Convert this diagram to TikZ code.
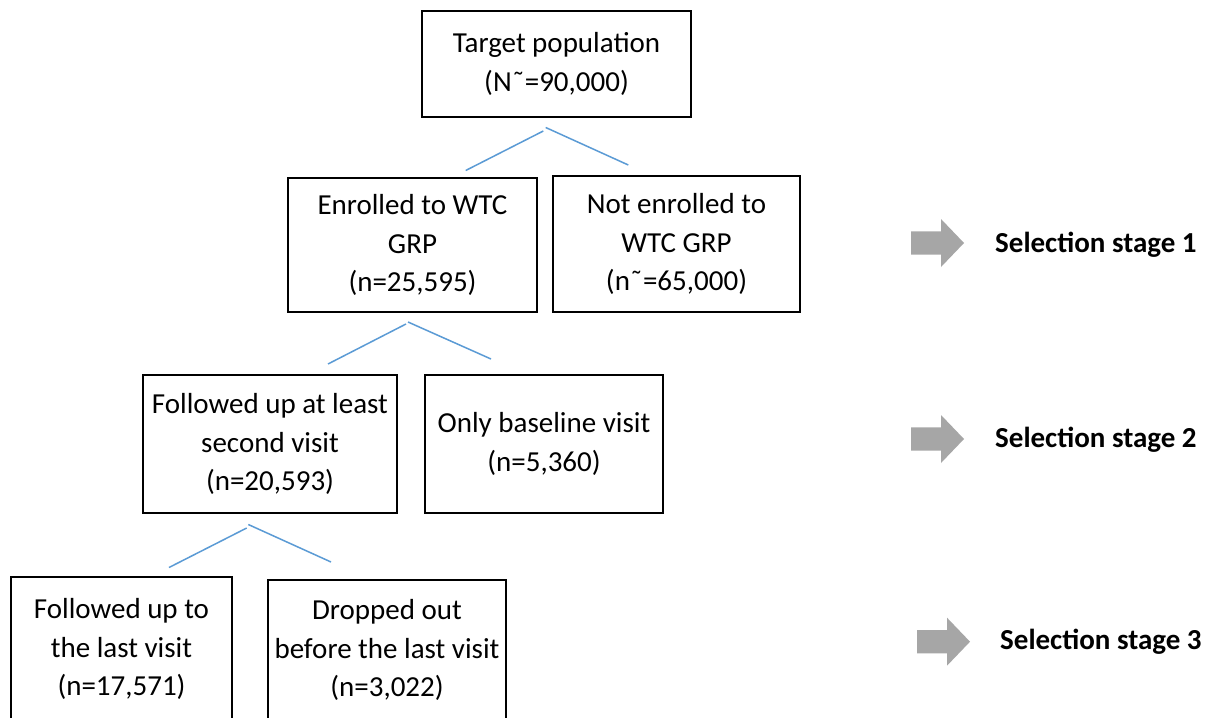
\documentclass[tikz,border=0pt]{standalone}
\usepackage{fontspec}
\setmainfont{Carlito}
\definecolor{linkblue}{RGB}{91,155,213}
\definecolor{arrowgray}{RGB}{166,166,166}
\tikzset{
  box/.style={draw=black, line width=2.6pt, align=center, inner sep=0pt,
    font=\fontsize{29}{38.5}\selectfont},
  link/.style={draw=linkblue, line width=1.5pt},
  stagelabel/.style={anchor=west, inner sep=0pt, font=\fontsize{29}{35}\selectfont\bfseries},
  stagearrow/.pic={\fill[arrowgray] (0,-11.7) -- (30,-11.7) -- (30,-24) -- (53,0) -- (30,24) -- (30,11.7) -- (0,11.7) -- cycle;}
}
\begin{document}
\begin{tikzpicture}[x=1pt,y=-1pt]
\useasboundingbox (0,0) rectangle (1209,717);
\clip (0,0) rectangle (1209,717);
\fill[white] (0,0) rectangle (1209,717);

% boxes
\node[box, minimum width=269pt, minimum height=106pt] (target) at (556.5,64)
  {Target population\\(N˜=90,000)};
\node[box, minimum width=249pt, minimum height=134pt] (enrolled) at (412.5,245)
  {Enrolled to WTC\\GRP\\(n=25,595)};
\node[box, minimum width=247pt, minimum height=136pt] (notenr) at (676.5,244)
  {Not enrolled to\\WTC GRP\\(n˜=65,000)};
\node[box, minimum width=254pt, minimum height=138pt] (followed) at (270,444)
  {Followed up at least\\second visit\\(n=20,593)};
\node[box, minimum width=238pt, minimum height=138pt] (baseline) at (544,444)
  {Only baseline visit\\(n=5,360)};
\node[box, minimum width=221pt, minimum height=144pt] (last) at (121.5,649)
  {Followed up to\\the last visit\\(n=17,571)};
\node[box, minimum width=238pt, minimum height=140pt] (dropped) at (387,650)
  {Dropped out\\before the last visit\\(n=3,022)};

% connector coordinates
\coordinate (a1l) at (543.3,131);
\coordinate (a1r) at (545.7,127.5);
\coordinate (e1) at (465.7,170.5);
\coordinate (n1) at (628.3,165);
\coordinate (a2l) at (406,324);
\coordinate (a2r) at (408,322);
\coordinate (f2) at (328,364);
\coordinate (b2) at (491,359);
\coordinate (a3l) at (246.7,528);
\coordinate (a3r) at (248.3,524.5);
\coordinate (l3) at (169,567.5);
\coordinate (d3) at (331,562);

\draw[link] (a1l) -- (e1);
\draw[link] (a1r) -- (n1);
\draw[link] (a2l) -- (f2);
\draw[link] (a2r) -- (b2);
\draw[link] (a3l) -- (l3);
\draw[link] (a3r) -- (d3);

% stage arrows and labels
\pic (arr1) at (911,243) {stagearrow};
\pic (arr2) at (911,439) {stagearrow};
\pic (arr3) at (917,641.7) {stagearrow};
\node[stagelabel] (s1) at (995,245) {Selection stage 1};
\node[stagelabel] (s2) at (995,440) {Selection stage 2};
\node[stagelabel] (s3) at (1000,642) {Selection stage 3};
\end{tikzpicture}
\end{document}
